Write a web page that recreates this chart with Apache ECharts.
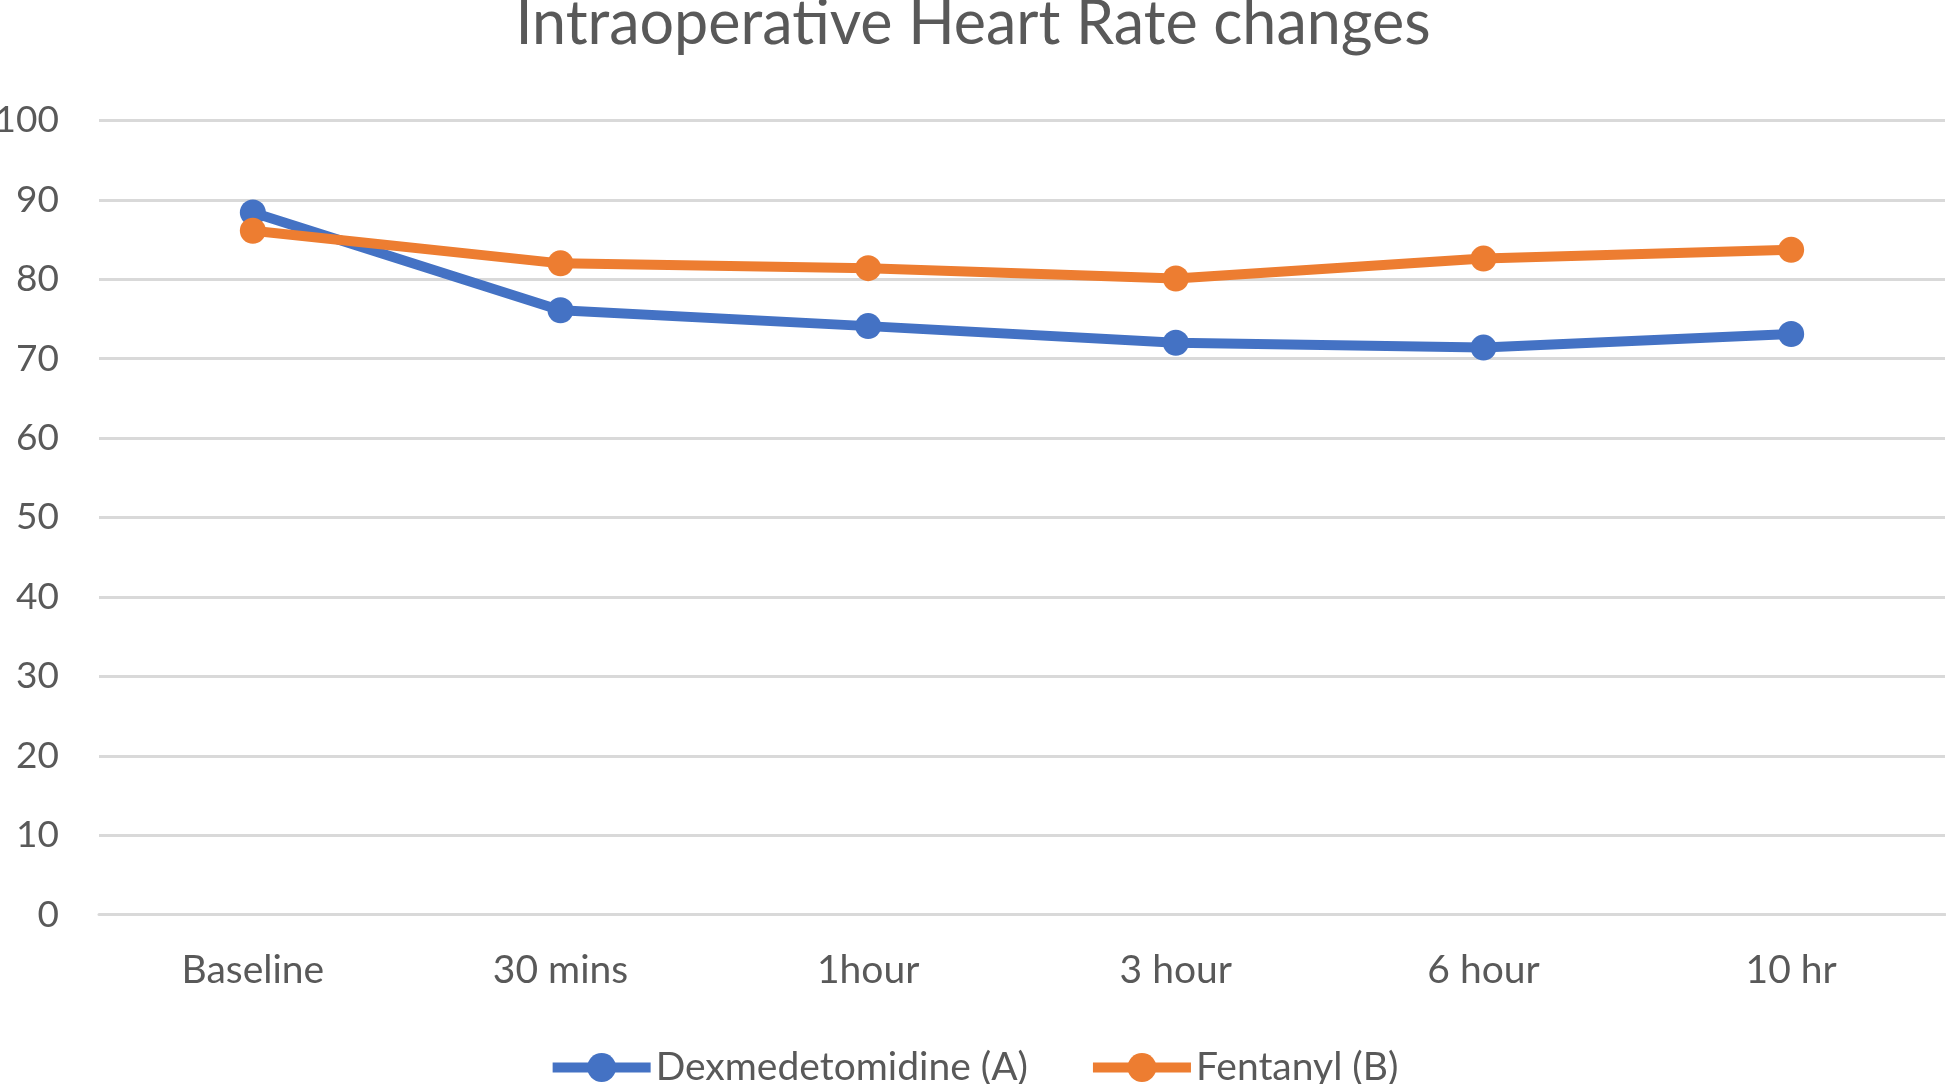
<!DOCTYPE html>
<html><head><meta charset="utf-8">
<script src="https://cdn.jsdelivr.net/npm/echarts@6/dist/echarts.min.js"></script>
<style>html,body{margin:0;padding:0;background:#fff}#c{width:1946px;height:1084px}</style>
</head><body><div id="c"></div>
<script>
const categories = ['Baseline', '30 mins', '1hour', '3 hour', '6 hour', '10 hr'];
const dexmedetomidine = [88.4, 76.1, 74.1, 72.0, 71.4, 73.1];
const fentanyl = [86.1, 82.0, 81.4, 80.1, 82.6, 83.7];
const seriesNames = ['Dexmedetomidine (A)', 'Fentanyl (B)'];
const titleText = 'Intraoperative Heart Rate changes';

const FONT = 'Lato';
const TXT = '#595959';
const chart = echarts.init(document.getElementById('c'));
chart.setOption({
  animation: false,
  title: {text: titleText, left: 'center', top: -11,
    textStyle: {fontFamily: FONT, fontSize: 61, fontWeight: 'normal', color: TXT}},
  legend: {bottom: -8, left: 'center', itemWidth: 98, itemHeight: 36, itemGap: 60,
    lineStyle: {width: 10},
    textStyle: {fontFamily: FONT, fontSize: 39, color: TXT},
    data: seriesNames},
  grid: {left: 99, right: 1, top: 120.4, bottom: 169.3, containLabel: false, outerBoundsMode: 'none'},
  xAxis: {type: 'category', data: categories, boundaryGap: true,
    axisLine: {lineStyle: {color: '#d9d9d9', width: 3}}, axisTick: {show: false},
    axisLabel: {fontFamily: FONT, fontSize: 39, color: TXT, margin: 36}},
  yAxis: {type: 'value', min: 0, max: 100, interval: 10,
    axisLine: {show: false}, axisTick: {show: false},
    axisLabel: {fontFamily: FONT, fontSize: 37, color: TXT, margin: 40},
    splitLine: {lineStyle: {color: '#d9d9d9', width: 3}}},
  series: [
    {name: seriesNames[0], type: 'line', data: dexmedetomidine, symbol: 'circle', symbolSize: 26,
      itemStyle: {color: '#4472C4'}, lineStyle: {width: 10, color: '#4472C4'}},
    {name: seriesNames[1], type: 'line', data: fentanyl, symbol: 'circle', symbolSize: 26,
      itemStyle: {color: '#ED7D31'}, lineStyle: {width: 10, color: '#ED7D31'}}
  ]
});
</script></body></html>
